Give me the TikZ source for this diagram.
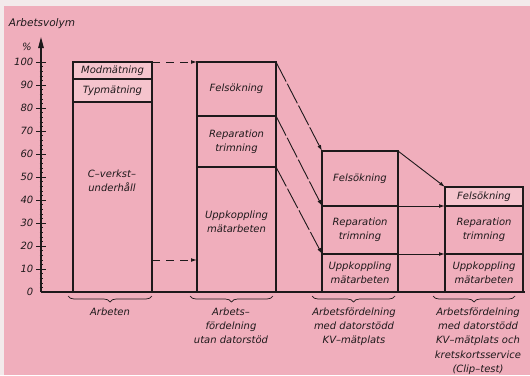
\documentclass[tikz,border=0pt]{standalone}
\usepackage{fontspec}
\setmainfont{DejaVu Sans}[ItalicFont={DejaVu Sans Oblique}]
\usetikzlibrary{arrows.meta,decorations.pathreplacing}
\definecolor{paper}{RGB}{243,234,235}
\definecolor{rose}{RGB}{240,174,188}
\definecolor{roselight}{RGB}{245,196,205}
\definecolor{ink}{RGB}{30,25,27}
\begin{document}
\begin{tikzpicture}[x=1pt,y=-1pt,
  txt/.style={font=\itshape\fontsize{10}{14.3}\selectfont, text=ink, align=center, inner sep=0pt},
  cell/.style={txt, draw=ink, line width=1.1pt, rectangle, anchor=north west,
    inner sep=0pt, outer sep=0pt},
  ticklbl/.style={font=\itshape\fontsize{10}{11}\selectfont, text=ink, anchor=east, inner sep=0pt},
  flow/.style={draw=ink, line width=0.9pt, -{Latex[length=6pt,width=3.8pt]}},
  gapflow/.style={flow, dash pattern=on 8pt off 6pt},
  longflow/.style={flow, dash pattern=on 22pt off 2.5pt},
  under/.style={draw=ink, line width=0.7pt, decorate,
    decoration={brace, mirror, amplitude=6pt}},
  caption/.style={txt, anchor=north}]

% paper and background
\fill[paper] (0,0) rectangle (530,375);
\fill[rose] (4,6) rectangle (530,375);
\useasboundingbox (0,0) rectangle (530,375);

% axes
\coordinate (o) at (41,292);
\coordinate (ytop) at (41,37);
\coordinate (xend) at (525,292);
\draw[ink, line width=1.1pt, -{Triangle[length=11pt,width=5.5pt]}] (o) -- (ytop);
\draw[ink, line width=1.1pt] (o) -- (xend);
\foreach \p in {2,4,...,98}
  \draw[ink, line width=0.5pt] (39.5,{292-2.3*\p}) -- (42.5,{292-2.3*\p});
\foreach \p in {10,20,...,100}
  \draw[ink, line width=0.9pt] (36,{292-2.3*\p}) -- (46,{292-2.3*\p});
\foreach \p in {0,10,...,100}
  \node[ticklbl] (tick\p) at (33.5,{292-2.3*\p}) {\p};
\node[txt, font=\itshape\fontsize{10.5}{11}\selectfont] (ylabel) at (42,24) {Arbetsvolym};
\node[txt, font=\itshape\fontsize{10}{11}\selectfont] (unit) at (27,47) {\%};

% column 1
\node[cell, fill=roselight, minimum width=79pt, minimum height=17pt] (c1m) at (73,62) {Modmätning};
\node[cell, fill=roselight, minimum width=79pt, minimum height=23pt] (c1t) at (73,79) {Typmätning};
\node[cell, minimum width=79pt, minimum height=190pt] (c1c) at (73,102) {};
\node[txt] (c1ctext) at (112,181) {C–verkst–\\underhåll};

% column 2
\node[cell, minimum width=79pt, minimum height=54pt] (c2f) at (197,62) {Felsökning};
\node[cell, minimum width=79pt, minimum height=51pt] (c2r) at (197,116) {Reparation\\trimning};
\node[cell, minimum width=79pt, minimum height=125pt] (c2u) at (197,167) {};
\node[txt] (c2utext) at (236.5,222) {Uppkoppling\\mätarbeten};

% column 3
\node[cell, minimum width=76pt, minimum height=55pt] (c3f) at (322,151) {Felsökning};
\node[cell, minimum width=76pt, minimum height=48pt] (c3r) at (322,206) {Reparation\\trimning};
\node[cell, minimum width=76pt, minimum height=38pt] (c3u) at (322,254) {Uppkoppling\\mätarbeten};

% column 4
\node[cell, fill=roselight, minimum width=78pt, minimum height=19pt] (c4f) at (445,187) {Felsökning};
\node[cell, minimum width=78pt, minimum height=48pt] (c4r) at (445,206) {Reparation\\trimning};
\node[cell, minimum width=78pt, minimum height=38pt] (c4u) at (445,254) {Uppkoppling\\mätarbeten};

% transitions between columns
\coordinate (lo1) at (152,260);
\coordinate (lo2) at (197,260);
\draw[gapflow] (c1m.north east) -- (c2f.north west);
\draw[gapflow] (lo1) -- (lo2);
\draw[longflow] (c2f.north east) -- (c3f.north west);
\draw[longflow] (c2r.north east) -- (c3r.north west);
\draw[longflow] (c2u.north east) -- (c3u.north west);
\draw[flow] (c3f.north east) -- (c4f.north west);
\draw[flow] (c3r.north east) -- (c4r.north west);
\draw[flow] (c3u.north east) -- (c4u.north west);

% braces and captions
\coordinate (br1a) at (68,296);  \coordinate (br1b) at (152,296);
\coordinate (br2a) at (190,296); \coordinate (br2b) at (273,296);
\coordinate (br3a) at (312,296); \coordinate (br3b) at (395,296);
\coordinate (br4a) at (433,296); \coordinate (br4b) at (515,296);
\draw[under] (br1a) -- (br1b);
\draw[under] (br2a) -- (br2b);
\draw[under] (br3a) -- (br3b);
\draw[under] (br4a) -- (br4b);
\node[caption] (l1) at (110,307.5) {Arbeten};
\node[caption] (l2) at (231,307.5) {Arbets–\\fördelning\\utan datorstöd};
\node[caption] (l3) at (354,307.5) {Arbetsfördelning\\med datorstödd\\KV–mätplats};
\node[caption] (l4) at (478,307.5) {Arbetsfördelning\\med datorstödd\\KV–mätplats och\\kretskortsservice\\(Clip–test)};
\end{tikzpicture}
\end{document}
